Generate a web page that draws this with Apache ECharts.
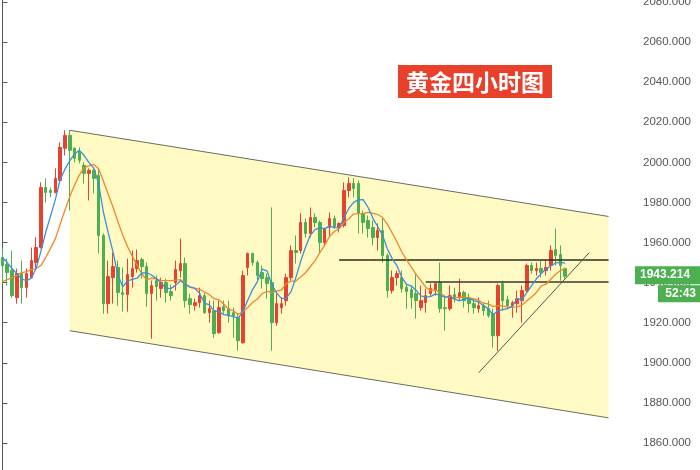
<!DOCTYPE html>
<html><head><meta charset="utf-8">
<script src="https://cdn.jsdelivr.net/npm/echarts@6/dist/echarts.min.js"></script>
<style>html,body{margin:0;padding:0;background:#fff}#c{width:700px;height:470px}</style>
</head><body><div id="c"></div><script>
// OHLC of the 4-hour gold candles
const opens=[1952.5,1949,1946,1932.5,1944.5,1937.5,1942.5,1950,1957.5,1987.5,
1986,1985,1991,2007,2013.5,2007,2005,1998.5,1994.5,1996,
1993.5,1963.5,1929.5,1942.5,1947.5,1935,1934,1943,1947,1951.5,
1948,1934.5,1941,1937,1940,1935.5,1940,1946,1949.5,1932,
1928.5,1930,1933.5,1925,1926,1915,1928,1927,1925,1922.5,
1910,1947.5,1954.5,1950,1945,1942.5,1940,1920,1927.5,1931,
1942.5,1956,1956,1970,1964.5,1972.5,1970,1960,1967.5,1972,
1967.5,1968.5,1986,1989.5,1989.5,1974.5,1971,1967.5,1962.5,1966,
1953.5,1936,1942.5,1942.5,1937.5,1936.5,1934.5,1927.5,1930,1934.5,
1936,1940,1927.5,1927,1934,1932.5,1935,1932,1929.5,1927,
1928.5,1927,1924.5,1913.5,1939.5,1931.5,1928.5,1929.5,1931,1936,
1948.5,1946,1947,1946,1948.5,1956.5,1954,1947];
const closes=[1948.5,1945,1933.5,1944.5,1937.5,1944.5,1951,1957.5,1987.5,1985,
1985,1992,2007.5,2013.5,2006,2002,2001,1994.5,1996,1992,
1963.5,1929.5,1943,1948,1935,1934,1944,1947,1951,1948,
1934.5,1938.5,1938,1940,1935,1933.5,1946.5,1949.5,1931,1929,
1930,1933.5,1925,1927,1914.5,1927.5,1926,1923.5,1923.5,1911,
1943.5,1954.5,1950,1943.5,1942,1939.5,1920,1929.5,1929.5,1942.5,
1956,1955,1970,1964.5,1972.5,1970,1960,1967,1972,1968,
1969.5,1986,1989.5,1987,1974.5,1970,1967,1962.5,1966,1953.5,
1936,1942.5,1944.5,1937,1935.5,1932.5,1931,1931,1933.5,1937,
1939.5,1927,1927,1933.5,1932,1935,1931,1929.5,1927.5,1928.5,
1926,1923.5,1913.5,1938.5,1931,1928.5,1930,1932,1936,1948.5,
1946,1947,1945,1947.5,1956,1953.5,1948.5,1943.214];
const lows=[1939.5,1938.5,1932.5,1929.5,1929.5,1932.5,1942.5,1947.5,1957,1980,
1982.5,1984.5,1991,2003.5,1976,2000,1999.5,1989.5,1981,1984.5,
1954.5,1924.5,1924.5,1929.5,1928.5,1925.5,1925.5,1937.5,1945,1942,
1928,1912,1931,1932.5,1930,1931,1936,1942.5,1927.5,1924.5,
1926,1927.5,1924.5,1920,1912.5,1914.5,1924.5,1920,1912.5,1906,
1909.5,1943.5,1948.5,1941,1937,1932,1906,1918.5,1924.5,1928.5,
1941,1949.5,1954.5,1962.5,1962.5,1967.5,1954.5,1958.5,1962.5,1967,
1965,1967.5,1982.5,1982.5,1964.5,1964.5,1962.5,1958.5,1956,1950,
1932.5,1934.5,1938.5,1935,1927,1927,1922,1926,1925,1933.5,
1933.5,1925,1916,1926,1930,1931,1927.5,1925,1924.5,1925,
1923.5,1922.5,1907.5,1906,1926,1927,1922.5,1925,1920,1935,
1944.5,1943.5,1942.5,1943.5,1946,1948.5,1941,1942];
const highs=[1957,1952,1956,1947,1951,1947,1957.5,1962.5,1990,1992,
1987.5,1997,2010,2016,2016,2007.5,2007.5,2000,1997,1997,
1997,1964.5,1951,1955,1951,1947.5,1952,1956,1956.5,1952.5,
1950,1941,1943.5,1942.5,1942,1939,1951,1962,1952.5,1934.5,
1932,1937.5,1935,1931,1931,1931,1931,1931,1927.5,1924.5,
1946,1955,1955,1951,1948.5,1944.5,1977.5,1934.5,1932.5,1944.5,
1958.5,1963.5,1974.5,1972,1977.5,1974.5,1971,1967.5,1975,1973.5,
1970,1990,1992.5,1992,1991,1976,1973.5,1971,1969.5,1972,
1954.5,1946,1946,1946,1939.5,1938.5,1944.5,1938.5,1937,1939.5,
1940,1950,1933.5,1938.5,1937.5,1942,1936,1934.5,1932,1932.5,
1930,1931,1927,1939.5,1941,1933.5,1931,1936,1938.5,1949.5,
1950,1950,1951,1951,1958.5,1967,1958.5,1947.5];
// moving averages as drawn in the reference (blue = fast, orange = slow)
const maFast=[1952.5,1950,1947,1944.5,1941.8,1941,1942.2,1947,1955.6,1965.1,
1973.2,1981.4,1991.4,1996.6,2000.8,2004.2,2006,2003.4,1999.9,1997.1,
1989.4,1975.1,1964.8,1955.2,1943.8,1937.9,1940.8,1941.6,1942.2,1944.8,
1944.9,1943.8,1942,1939.8,1937.2,1937,1938.6,1940.9,1939.1,1937.9,
1937.2,1934.6,1929.7,1928.9,1926,1925.5,1924,1923.7,1923,1922.3,
1925.5,1931.2,1936.5,1940.5,1946.7,1945.9,1939,1934.9,1932.1,1932.2,
1935.5,1942.5,1950.6,1957.6,1963.6,1966.4,1967.4,1966.8,1968.3,1967.4,
1967.3,1972.5,1977,1980,1981.3,1981.4,1977.6,1972.2,1968,1963.8,
1957,1952.1,1948.5,1942.7,1939.1,1938.4,1936.1,1933.4,1932.7,1933,
1934.4,1933.6,1932.8,1932.8,1931.8,1930.9,1931.7,1932.2,1931,1930.3,
1928.5,1927,1923.8,1926,1926.5,1927,1928.3,1932,1931.5,1935,
1938.5,1941.9,1944.5,1946.8,1948.3,1949.8,1950.1,1949.7];
const maSlow=[1940.5,1941.5,1942.5,1943.5,1945,1945.5,1946.5,1947,1948.5,1952.5,
1957.1,1961.8,1969.2,1976.1,1983,1988.7,1993.7,1997.4,1998.3,1999,
1996.8,1990.6,1984.1,1977.6,1970.5,1963.7,1958,1953.2,1948.7,1944.3,
1941.4,1942.3,1941.8,1941,1941,1941,1941.2,1941.5,1939.5,1937.6,
1937.1,1936.6,1935.3,1934,1932,1931.4,1929.3,1926.7,1926,1924.2,
1925.5,1927.6,1930.1,1931.8,1934.5,1935.7,1935.1,1935.7,1936.3,1939.5,
1940.7,1940.8,1942.8,1944.9,1947.9,1951,1955,1958.7,1963,1965.5,
1966.9,1970,1971.9,1974.2,1974.4,1974.4,1975.1,1974.6,1974,1972.6,
1969.2,1964.9,1960.4,1955.4,1951.5,1947.7,1944.1,1941,1937.7,1936.1,
1936.4,1934.9,1933.1,1932.8,1932.4,1932.7,1932.7,1932.5,1931.9,1931.1,
1929.7,1929.4,1928,1928.5,1928.4,1927.8,1927.7,1927.9,1928.8,1930.8,
1932.8,1935.1,1938.3,1939.2,1941.7,1944.2,1946,1947.1];
// drawing tools (x = bar index, y = price)
const channelPoly=[[14,2016],[126,1973],[126,1872.5],[14,1916]];
const channelTop=[[14,2016],[126,1973]];
const channelBottom=[[14,1916],[126,1872.5]];
const resistance=[[70,1951.3],[126,1951.3]];
const support=[[88,1940.3],[126,1940.3]];
const trendLine=[[99,1895],[122,1955]];
const lastPrice=1943.214;
const countdown='52:43';
const titleText='黄金四小时图';
const barCount=132;
const categories=Array.from({length:barCount},(_,i)=>'K'+i);

const UP='#e8412f', DOWN='#4caf50';
const chart=echarts.init(document.getElementById('c'),null,{renderer:'canvas'});
const candleData=opens.map((o,i)=>[o,closes[i],lows[i],highs[i]]);
const seg=(data,color,w)=>({type:'line',xAxisIndex:1,yAxisIndex:0,data:data,symbol:'none',silent:true,
  lineStyle:{color:color,width:w},z:3});
chart.setOption({
  animation:false,
  title:{text:titleText,left:398,top:65,backgroundColor:'#e9402c',padding:[4,8,3,8],
    textStyle:{color:'#fff',fontSize:23,fontWeight:'bold',fontFamily:'Noto Sans CJK SC',lineHeight:26}},
  grid:{left:0,right:65,top:-18,bottom:-13,containLabel:false,outerBoundsMode:'none'},
  xAxis:[
    {type:'category',data:categories,show:false,boundaryGap:true},
    {type:'value',min:-0.5,max:barCount-0.5,show:false}
  ],
  yAxis:{type:'value',position:'right',min:1840,max:2090,interval:20,
    axisLine:{show:true,lineStyle:{color:'#555',width:1}},
    axisTick:{show:true,length:5,lineStyle:{color:'#555'}},
    axisLabel:{color:'#555',fontSize:11.5,fontFamily:'Liberation Sans',margin:8,formatter:v=>v.toFixed(3)},
    splitLine:{show:false}},
  series:[
    {type:'custom',xAxisIndex:1,yAxisIndex:0,data:[channelPoly[0]],silent:true,z:1,
      renderItem:(params,api)=>({type:'polygon',shape:{points:channelPoly.map(p=>api.coord(p))},
        style:{fill:'#fffac4'}})},
    seg(channelTop,'#6b6b5a',1),
    seg(channelBottom,'#6b6b5a',1),
    {type:'candlestick',xAxisIndex:0,yAxisIndex:0,data:candleData,barWidth:3,z:4,
      itemStyle:{color:UP,color0:DOWN,borderColor:UP,borderColor0:DOWN,borderWidth:1}},
    Object.assign(seg(resistance,'#2b2b22',1.5),{z:5}),
    Object.assign(seg(support,'#3a3a2e',1.5),{z:5}),
    Object.assign(seg(trendLine,'#55554a',1),{z:5}),
    {type:'line',xAxisIndex:0,yAxisIndex:0,data:maSlow,symbol:'none',z:6,
      lineStyle:{color:'#f2862a',width:1.3}},
    {type:'line',xAxisIndex:0,yAxisIndex:0,data:maFast,symbol:'none',z:7,
      lineStyle:{color:'#3c8fd9',width:1.3}}
  ]
});
const py=chart.convertToPixel({yAxisIndex:0},lastPrice);
const ax=chart.convertToPixel({xAxisIndex:1},barCount-0.5);
chart.setOption({graphic:[
  {type:'rect',shape:{x:ax,y:py-10,width:700-ax,height:18},style:{fill:DOWN},z:100},
  {type:'text',x:ax+5,y:py-1,style:{text:lastPrice.toFixed(3),fill:'#fff',font:'bold 12px "Liberation Sans"',verticalAlign:'middle'},z:101},
  {type:'rect',shape:{x:658,y:py+9,width:42,height:17},style:{fill:DOWN},z:100},
  {type:'text',x:696,y:py+17.5,style:{text:countdown,fill:'#fff',font:'bold 12px "Liberation Sans"',align:'right',verticalAlign:'middle'},z:101}
]});
</script></body></html>
